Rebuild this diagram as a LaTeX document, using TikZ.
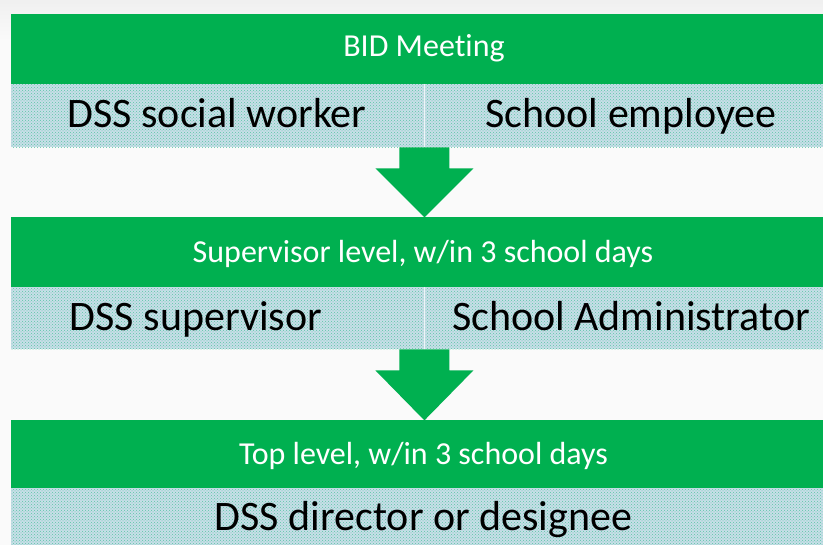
\documentclass[tikz,border=0pt]{standalone}
\usepackage{fontspec}
\setmainfont{Carlito}[Ligatures=NoCommon]
\usetikzlibrary{patterns,calc}
\definecolor{offgreen}{RGB}{0,176,80}
\definecolor{bandblue}{RGB}{200,222,232}
\definecolor{banddot}{RGB}{90,198,165}
\definecolor{bgc}{RGB}{250,250,250}
\tikzset{
  greenbar/.style={fill=offgreen, minimum width=825pt, inner sep=0pt, anchor=north west},
  bandbox/.style={preaction={fill=bandblue}, pattern=crosshatch dots, pattern color=banddot, inner sep=0pt, anchor=north west},
  headtext/.style={text=white, font=\fontsize{32}{36}\selectfont, anchor=base, inner sep=0pt},
  bandtext/.style={font=\fontsize{42}{46}\selectfont, text=black, anchor=base, inner sep=0pt},
  blockarrow/.style={fill=offgreen}
}
\begin{document}
\begin{tikzpicture}[x=1pt,y=-1pt]
\useasboundingbox (0,0) rectangle (823,545);
\fill[bgc] (0,0) rectangle (823,545);
\shade[top color=gray!12, bottom color=bgc] (0,0) rectangle (823,40);
% level 1
\node[greenbar, minimum height=70pt] (h1) at (11,14) {};
\node[bandbox, minimum width=413pt, minimum height=63pt] (l1) at (11,84) {};
\node[bandbox, minimum width=412pt, minimum height=63pt] (r1) at (424,84) {};
\draw[white!70!bandblue, line width=1pt] (l1.north east) -- (l1.south east);
\node[headtext] (t1) at (424,57) {BID Meeting};
\node[bandtext] (a1) at (217,128) {DSS social worker};
\node[bandtext] (b1) at (631,128) {School employee};
% arrow 1
\fill[blockarrow] ($(l1.south east)+(-25,0)$) -- ($(l1.south east)+(25,0)$) -- ($(l1.south east)+(25,21)$) -- ($(l1.south east)+(49,21)$) -- ($(l1.south east)+(0,70)$) -- ($(l1.south east)+(-49,21)$) -- ($(l1.south east)+(-25,21)$) -- cycle;
% level 2
\node[greenbar, minimum height=70pt] (h2) at (11,217) {};
\node[bandbox, minimum width=413pt, minimum height=62pt] (l2) at (11,287) {};
\node[bandbox, minimum width=412pt, minimum height=62pt] (r2) at (424,287) {};
\draw[white!70!bandblue, line width=1pt] (l2.north east) -- (l2.south east);
\node[headtext] (t2) at (423,263) {Supervisor level, w/in 3 school days};
\node[bandtext] (a2) at (196,331) {DSS supervisor};
\node[bandtext] (b2) at (631,331) {School Administrator};
% arrow 2
\fill[blockarrow] ($(l2.south east)+(-25,0)$) -- ($(l2.south east)+(25,0)$) -- ($(l2.south east)+(25,21)$) -- ($(l2.south east)+(49,21)$) -- ($(l2.south east)+(0,71)$) -- ($(l2.south east)+(-49,21)$) -- ($(l2.south east)+(-25,21)$) -- cycle;
% level 3
\node[greenbar, minimum height=68pt] (h3) at (11,420) {};
\node[bandbox, minimum width=825pt, minimum height=64pt] (l3) at (11,488) {};
\node[headtext] (t3) at (423.5,465) {Top level, w/in 3 school days};
\node[bandtext] (a3) at (423.5,530) {DSS director or designee};
\end{tikzpicture}
\end{document}
